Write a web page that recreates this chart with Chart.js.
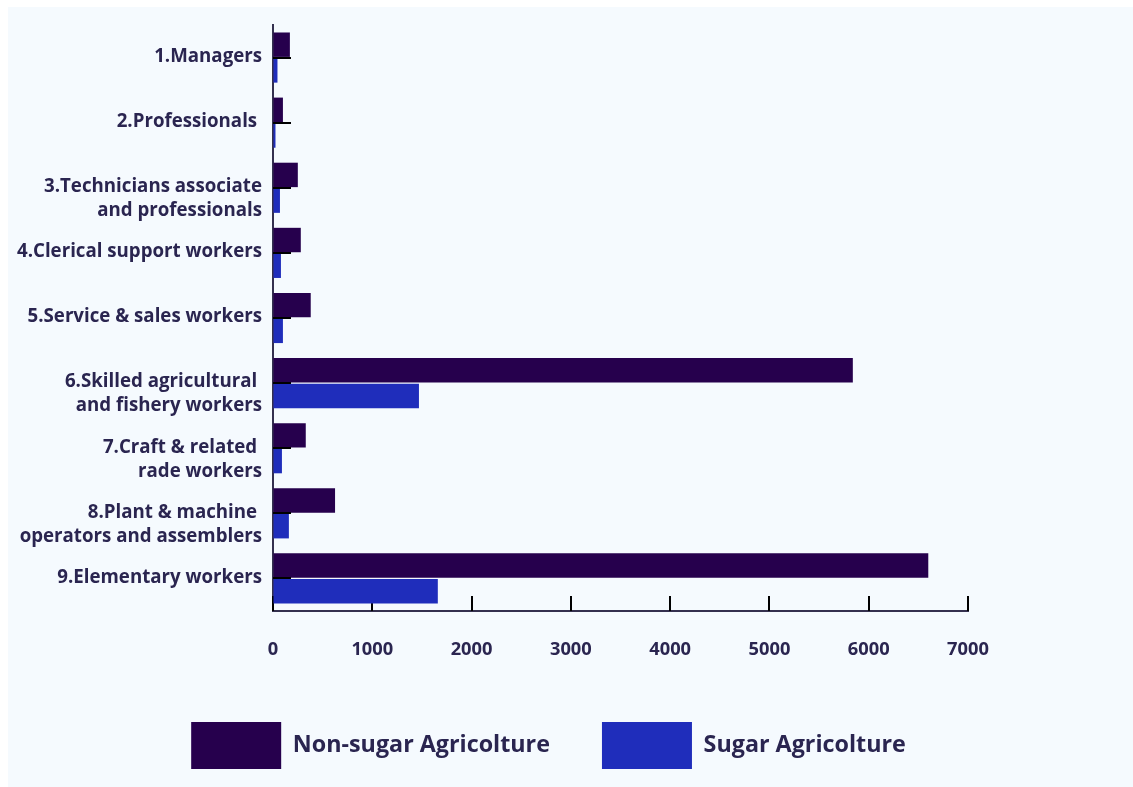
<!DOCTYPE html>
<html>
<head>
<meta charset="utf-8">
<script src="https://cdn.jsdelivr.net/npm/chart.js@4.4.1/dist/chart.umd.min.js"></script>
<style>
  html, body { margin: 0; padding: 0; background: #ffffff; }
  #panel {
    position: absolute; left: 8px; top: 7px;
    width: 1125px; height: 780px;
    background: #F5FAFE;
  }
  #panel canvas { display: block; }
</style>
</head>
<body>
<div id="panel"><canvas id="chart" width="1125" height="780"></canvas></div>
<script>
// Occupation groups (multi-line labels kept as arrays of lines)
const categories = [
  ["1.Managers"],
  ["2.Professionals "],
  ["3.Technicians associate", "and professionals"],
  ["4.Clerical support workers"],
  ["5.Service & sales workers"],
  ["6.Skilled agricultural ", "and fishery workers"],
  ["7.Craft & related ", "rade workers"],
  ["8.Plant & machine ", "operators and assemblers"],
  ["9.Elementary workers"]
];

const nonSugarValues = [170, 100, 250, 280, 380, 5840, 330, 625, 6600];
const sugarValues    = [45, 25, 70, 80, 100, 1470, 90, 160, 1660];

const seriesNames = ["Non-sugar Agricolture", "Sugar Agricolture"];
const xTickValues = [0, 1000, 2000, 3000, 4000, 5000, 6000, 7000];

const TEXT = '#2A2550';
const FONT = '"Open Sans", "Noto Sans", sans-serif';

// Category labels drawn to the left of the value axis, first line on the tick
const categoryLabels = {
  id: 'categoryLabels',
  afterDraw(chart) {
    const { ctx, chartArea } = chart;
    const y = chart.scales.y;
    ctx.save();
    ctx.font = 'bold 18.7px ' + FONT;
    ctx.fillStyle = TEXT;
    ctx.textAlign = 'right';
    ctx.textBaseline = 'middle';
    categories.forEach((lines, i) => {
      const cy = y.getPixelForValue(i) - 1;
      lines.forEach((line, j) => {
        ctx.fillText(line, chartArea.left - 11, cy + j * 24);
      });
    });
    ctx.restore();
  }
};

// Inward tick marks: x ticks under the bars, y ticks over them
const innerTicks = {
  id: 'innerTicks',
  beforeDatasetsDraw(chart) {
    const { ctx, chartArea } = chart;
    const x = chart.scales.x;
    ctx.save();
    ctx.strokeStyle = '#000000';
    ctx.lineWidth = 2;
    xTickValues.forEach(v => {
      const px = Math.round(x.getPixelForValue(v));
      ctx.beginPath();
      ctx.moveTo(px, chartArea.bottom);
      ctx.lineTo(px, chartArea.bottom - 15);
      ctx.stroke();
    });
    ctx.restore();
  },
  afterDatasetsDraw(chart) {
    const { ctx, chartArea } = chart;
    const y = chart.scales.y;
    ctx.save();
    ctx.strokeStyle = '#000000';
    ctx.lineWidth = 2;
    categories.forEach((_, i) => {
      const py = Math.round(y.getPixelForValue(i));
      ctx.beginPath();
      ctx.moveTo(chartArea.left, py);
      ctx.lineTo(chartArea.left + 18, py);
      ctx.stroke();
    });
    ctx.restore();
  }
};

new Chart(document.getElementById('chart'), {
  type: 'bar',
  data: {
    labels: categories,
    datasets: [
      {
        label: seriesNames[0],
        data: nonSugarValues,
        backgroundColor: '#26004D',
        borderWidth: 0,
        categoryPercentage: 0.79,
        barPercentage: 0.95
      },
      {
        label: seriesNames[1],
        data: sugarValues,
        backgroundColor: '#1F2DBB',
        borderWidth: 0,
        categoryPercentage: 0.79,
        barPercentage: 0.95
      }
    ]
  },
  options: {
    indexAxis: 'y',
    responsive: false,
    animation: false,
    layout: { padding: { top: 18, right: 44, bottom: 8, left: 0 } },
    scales: {
      x: {
        min: 0,
        max: 7000,
        afterBuildTicks(scale) { scale.ticks = xTickValues.map(v => ({ value: v })); },
        ticks: {
          padding: 28,
          color: TEXT,
          font: { family: FONT, size: 18.3, weight: 'bold' },
          callback: v => String(v)
        },
        grid: { drawOnChartArea: false, drawTicks: false },
        border: { display: true, color: '#34304F', width: 2 },
        afterFit(scale) { scale.height = 59; }
      },
      y: {
        ticks: { display: false },
        grid: { drawOnChartArea: false, drawTicks: false },
        border: { display: true, color: '#34304F', width: 2 },
        afterFit(scale) { scale.width = 265; }
      },
      // empty right-hand gutter beside the plot
      gutter: {
        type: 'linear',
        position: 'right',
        axis: 'y',
        ticks: { display: false },
        grid: { display: false, drawTicks: false },
        border: { display: false },
        afterFit(scale) { scale.width = 121; }
      }
    },
    plugins: {
      tooltip: { enabled: false },
      legend: {
        position: 'bottom',
        labels: {
          boxWidth: 90,
          boxHeight: 47,
          padding: 52,
          color: TEXT,
          font: { family: FONT, size: 23.3, weight: 'bold' }
        }
      }
    }
  },
  plugins: [categoryLabels, innerTicks]
});
</script>
</body>
</html>
